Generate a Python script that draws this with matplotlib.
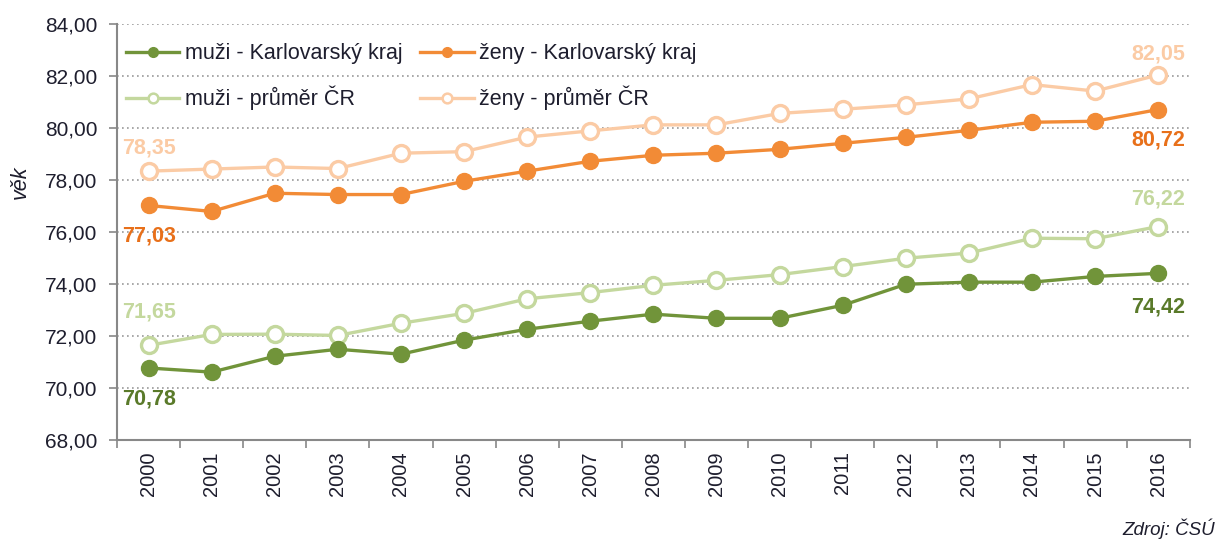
import matplotlib
matplotlib.use("Agg")
import matplotlib.pyplot as plt
from matplotlib.lines import Line2D
from matplotlib.ticker import FuncFormatter, MultipleLocator

plt.rcParams['font.family'] = ['Liberation Sans', 'DejaVu Sans']

years = ['2000', '2001', '2002', '2003', '2004', '2005', '2006', '2007', '2008',
         '2009', '2010', '2011', '2012', '2013', '2014', '2015', '2016']
muzi_kv = [70.78, 70.62, 71.23, 71.50, 71.31, 71.85, 72.27, 72.58, 72.85,
           72.69, 72.69, 73.19, 74.00, 74.08, 74.08, 74.30, 74.42]
zeny_kv = [77.03, 76.80, 77.50, 77.45, 77.45, 77.96, 78.35, 78.73, 78.96,
           79.04, 79.19, 79.42, 79.65, 79.92, 80.23, 80.27, 80.72]
muzi_cr = [71.65, 72.07, 72.08, 72.03, 72.50, 72.88, 73.44, 73.68, 73.96,
           74.15, 74.37, 74.68, 75.00, 75.20, 75.77, 75.75, 76.22]
zeny_cr = [78.35, 78.43, 78.51, 78.45, 79.04, 79.10, 79.66, 79.90, 80.13,
           80.13, 80.57, 80.73, 80.90, 81.13, 81.68, 81.43, 82.05]
labels = ['muži - Karlovarský kraj', 'muži - průměr ČR',
          'ženy - Karlovarský kraj', 'ženy - průměr ČR']

c_mkv = '#71943A'
c_zkv = '#F28B36'
c_mcr = '#C4D89E'
c_zcr = '#FBCBA5'
c_mkv_t = '#5A7A2A'
c_zkv_t = '#E8701A'
c_txt = '#1E1E2E'

fig = plt.figure(figsize=(12.19, 5.51), dpi=100)
ax = fig.add_axes([0.096, 0.201, 0.880, 0.755])

x = list(range(len(years)))
lw = 2.4
ms = 11.5
ax.plot(x, muzi_cr, color=c_mcr, lw=lw, marker='o', ms=ms, mfc='white', mec=c_mcr, mew=2.4, zorder=3)
ax.plot(x, zeny_cr, color=c_zcr, lw=lw, marker='o', ms=ms, mfc='white', mec=c_zcr, mew=2.4, zorder=3)
ax.plot(x, muzi_kv, color=c_mkv, lw=lw, marker='o', ms=ms, mfc=c_mkv, mec=c_mkv, zorder=4)
ax.plot(x, zeny_kv, color=c_zkv, lw=lw, marker='o', ms=ms, mfc=c_zkv, mec=c_zkv, zorder=4)

ax.set_xlim(-0.5, len(years) - 0.5)
ax.set_ylim(68, 84)
ax.yaxis.set_major_locator(MultipleLocator(2))
ax.yaxis.set_major_formatter(FuncFormatter(lambda v, p: f"{v:.2f}".replace('.', ',')))
ax.set_xticks(x)
ax.set_xticklabels(years, rotation=90, fontsize=14.5, color=c_txt)
ax.set_xticks([i - 0.5 for i in range(len(years) + 1)], minor=True)
ax.tick_params(axis='x', which='major', length=0, pad=8)
ax.tick_params(axis='x', which='minor', length=6, color='#888888', width=1.2)
ax.tick_params(axis='y', length=6, color='#888888', width=1.2, labelsize=15, labelcolor=c_txt, pad=8)

ax.grid(axis='y', linestyle=(0, (1, 2)), color='#999999', lw=1.2)
ax.set_axisbelow(True)
for s in ['top', 'right']:
    ax.spines[s].set_visible(False)
for s in ['left', 'bottom']:
    ax.spines[s].set_color('#888888')
    ax.spines[s].set_linewidth(1.5)

ax.set_ylabel('věk', fontsize=15.5, style='italic', color=c_txt)
ax.yaxis.set_label_coords(-0.080, 0.62)

def fmt(v):
    return f"{v:.2f}".replace('.', ',')

ann = [
    (0, zeny_cr[0], c_zcr, 17),
    (0, zeny_kv[0], c_zkv_t, -22),
    (0, muzi_cr[0], c_mcr, 24),
    (0, muzi_kv[0], c_mkv_t, -22),
    (16, zeny_cr[16], c_zcr, 15),
    (16, zeny_kv[16], c_zkv_t, -22),
    (16, muzi_cr[16], c_mcr, 20),
    (16, muzi_kv[16], c_mkv_t, -24),
]
for xi, v, col, dy in ann:
    ax.annotate(fmt(v), (xi, v), xytext=(0, dy), textcoords='offset points',
                ha='center', va='center', fontsize=15.5, fontweight='bold', color=col)

handles = [
    Line2D([], [], color=c_mkv, lw=lw, marker='o', ms=7, mfc=c_mkv, mec=c_mkv),
    Line2D([], [], color=c_mcr, lw=lw, marker='o', ms=7, mfc='white', mec=c_mcr, mew=1.8),
    Line2D([], [], color=c_zkv, lw=lw, marker='o', ms=7, mfc=c_zkv, mec=c_zkv),
    Line2D([], [], color=c_zcr, lw=lw, marker='o', ms=7, mfc='white', mec=c_zcr, mew=1.8),
]
leg = ax.legend(handles, labels, ncol=2, loc='upper left', bbox_to_anchor=(-0.004, 0.985),
                frameon=False, fontsize=15.5, handlelength=2.5, handletextpad=0.25,
                labelspacing=1.0, columnspacing=0.8, borderaxespad=0.2)
for t in leg.get_texts():
    t.set_color(c_txt)

fig.text(0.997, 0.022, 'Zdroj: ČSÚ', ha='right', va='bottom', fontsize=13.5,
         style='italic', color=c_txt)

fig.savefig('out.png', dpi=100)
